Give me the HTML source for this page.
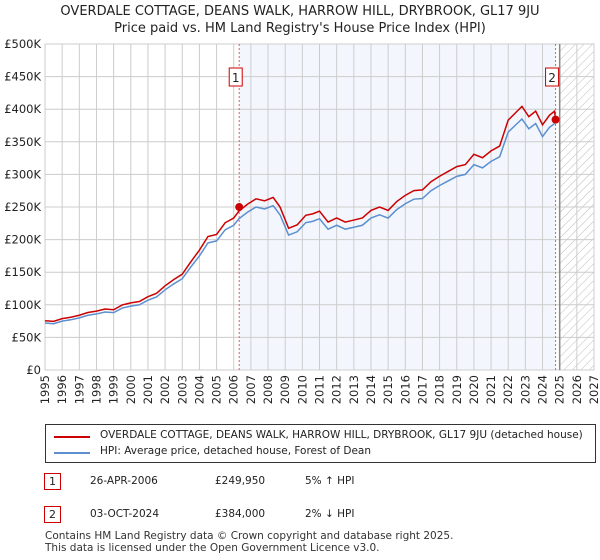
<!DOCTYPE html>
<html><head><meta charset="utf-8"><style>
body{margin:0;background:#fff;font-family:"DejaVu Sans","Liberation Sans",sans-serif;color:#222}
#wrap{position:relative;width:600px;height:560px;overflow:hidden}
.t{position:absolute;white-space:nowrap}
</style></head><body>
<div id="wrap">
<div class="t" style="left:0;width:600px;text-align:center;top:4px;font-size:13px">OVERDALE COTTAGE, DEANS WALK, HARROW HILL, DRYBROOK, GL17 9JU</div>
<div class="t" style="left:0;width:600px;text-align:center;top:21px;font-size:13px">Price paid vs. HM Land Registry's House Price Index (HPI)</div>
<svg id="chart" width="600" height="420" style="position:absolute;left:0;top:0;font-family:'DejaVu Sans','Liberation Sans',sans-serif">
<defs><pattern id="hatch" width="6" height="6" patternUnits="userSpaceOnUse" patternTransform="rotate(45)"><line x1="0" y1="0" x2="0" y2="6" stroke="#bbb" stroke-width="1"/></pattern></defs>
</svg>
<div style="position:absolute;left:45px;top:424px;width:549px;height:37px;border:1px solid #333">
 <div style="position:absolute;left:8px;top:11px;width:36px;height:2px;background:#cc0000"></div>
 <div class="t" style="left:54px;top:4px;font-size:10.5px">OVERDALE COTTAGE, DEANS WALK, HARROW HILL, DRYBROOK, GL17 9JU (detached house)</div>
 <div style="position:absolute;left:8px;top:27px;width:36px;height:2px;background:#5b8fd0"></div>
 <div class="t" style="left:54px;top:20px;font-size:10.5px">HPI: Average price, detached house, Forest of Dean</div>
</div>
<div style="position:absolute;left:44px;top:473px;width:15px;height:15px;border:1px solid #cc0000;font-size:11px;text-align:center;line-height:15px">1</div>
<div class="t" style="left:90px;top:475px;font-size:10.5px">26-APR-2006</div>
<div class="t" style="left:215px;top:475px;font-size:10.5px">£249,950</div>
<div class="t" style="left:305px;top:475px;font-size:10.5px">5% ↑ HPI</div>
<div style="position:absolute;left:44px;top:506px;width:15px;height:15px;border:1px solid #cc0000;font-size:11px;text-align:center;line-height:15px">2</div>
<div class="t" style="left:90px;top:508px;font-size:10.5px">03-OCT-2024</div>
<div class="t" style="left:215px;top:508px;font-size:10.5px">£384,000</div>
<div class="t" style="left:305px;top:508px;font-size:10.5px">2% ↓ HPI</div>
<div class="t" style="left:45px;top:530px;font-size:10.5px;line-height:12px;color:#333">Contains HM Land Registry data © Crown copyright and database right 2025.<br>This data is licensed under the Open Government Licence v3.0.</div>
</div>
<script>
const years=[1995,1996,1997,1998,1999,2000,2001,2002,2003,2004,2005,2006,2007,2008,2009,2010,2011,2012,2013,2014,2015,2016,2017,2018,2019,2020,2021,2022,2023,2024,2025,2026,2027];
const yTicks=[0,50000,100000,150000,200000,250000,300000,350000,400000,450000,500000];
const yLabels=["£0","£50K","£100K","£150K","£200K","£250K","£300K","£350K","£400K","£450K","£500K"];
const hpiT=[1995,1995.5,1996,1996.5,1997,1997.5,1998,1998.5,1999,1999.5,2000,2000.5,2001,2001.5,2002,2002.5,2003,2003.5,2004,2004.5,2005,2005.5,2006,2006.3,2006.8,2007.3,2007.8,2008.3,2008.7,2009.2,2009.7,2010.2,2010.6,2011,2011.5,2012,2012.5,2013,2013.5,2014,2014.5,2015,2015.5,2016,2016.5,2017,2017.5,2018,2018.5,2019,2019.5,2020,2020.5,2021,2021.5,2022,2022.4,2022.8,2023.2,2023.6,2024,2024.4,2024.7];
const hpiV=[72000,71000,75000,77000,80000,84000,86000,89000,88000,95000,98000,100000,107000,112000,123000,132000,140000,158000,175000,195000,198000,215000,222000,232000,242000,250000,247000,252000,238000,207000,212000,226000,228000,232000,216000,222000,216000,219000,222000,233000,238000,233000,246000,255000,262000,263000,275000,283000,290000,297000,300000,315000,310000,320000,327000,365000,375000,385000,370000,378000,358000,372000,378000];
const sale1=[2006.32,249950];
const sale2=[2024.76,384000];
const svg=document.getElementById('chart');
const NS='http://www.w3.org/2000/svg';
const X0=45,X1=594,Y0=370,Y1=44;
const x=t=>X0+(t-1995)/(2027-1995)*(X1-X0);
const y=v=>Y0-v/500000*(Y0-Y1);
function mk(tag,at){const e=document.createElementNS(NS,tag);for(const k in at)e.setAttribute(k,at[k]);svg.appendChild(e);return e;}
let r=mk('rect',{x:x(sale1[0]),y:Y1,width:x(sale2[0])-x(sale1[0]),height:Y0-Y1,fill:'#eef3fc',opacity:0.7});


let h=mk('rect',{x:x(2025),y:Y1,width:X1-x(2025),height:Y0-Y1,fill:'url(#hatch)'});


years.forEach(yr=>{
 let l=mk('line',{x1:x(yr),x2:x(yr),y1:Y1,y2:Y0,stroke:'#ccc','stroke-width':1});
 
 
 const tx=x(yr)+4,ty=Y0+5;
 let t=mk('text',{x:tx,y:ty,'font-size':11.5,'text-anchor':'end',fill:'#222',transform:'rotate(-90 '+tx+' '+ty+')'});
 t.textContent=yr;
 
 
});
yTicks.forEach((v,i)=>{
 let l=mk('line',{x1:X0,x2:X1,y1:y(v),y2:y(v),stroke:'#ccc','stroke-width':1});
 
 
 let t=mk('text',{x:X0-4,y:y(v)+4,'font-size':11.5,'text-anchor':'end',fill:'#222'});
 t.textContent=yLabels[i];
 
 
});
let b=mk('rect',{x:X0,y:Y1,width:X1-X0,height:Y0-Y1,fill:'none',stroke:'#ccc'});


let nl=mk('line',{x1:x(2025),x2:x(2025),y1:Y1,y2:Y0,stroke:'#888','stroke-width':1.5});


[sale1,sale2].forEach((s,i)=>{
 let l=mk('line',{x1:x(s[0]),x2:x(s[0]),y1:Y1,y2:Y0,stroke:'#e06060','stroke-dasharray':'2,2','stroke-width':1});
 
 
});
const ratio=sale1[1]/238000;
let hp=hpiT.map((t,i)=>x(t)+','+y(hpiV[i])).join(' ');
let hl=mk('polyline',{points:hp,fill:'none',stroke:'#5b8fd0','stroke-width':1.5});


let rp=hpiT.map((t,i)=>x(t)+','+y(hpiV[i]*ratio)).join(' ')+' '+x(sale2[0])+','+y(sale2[1]);
let rl=mk('polyline',{points:rp,fill:'none',stroke:'#cc0000','stroke-width':1.5});


[sale1,sale2].forEach((s,i)=>{
 let c=mk('circle',{cx:x(s[0]),cy:y(s[1]),r:4,fill:'#cc0000'});
 
 
 let bx=mk('rect',{x:x(s[0])-10,y:68,width:13,height:18,fill:'#fff',stroke:'#cc0000'});
 
 
 let t=mk('text',{x:x(s[0])-3.5,y:82,'font-size':12,'text-anchor':'middle',fill:'#222'});
 t.textContent=i+1;
 
 
});
</script>
</body></html>
